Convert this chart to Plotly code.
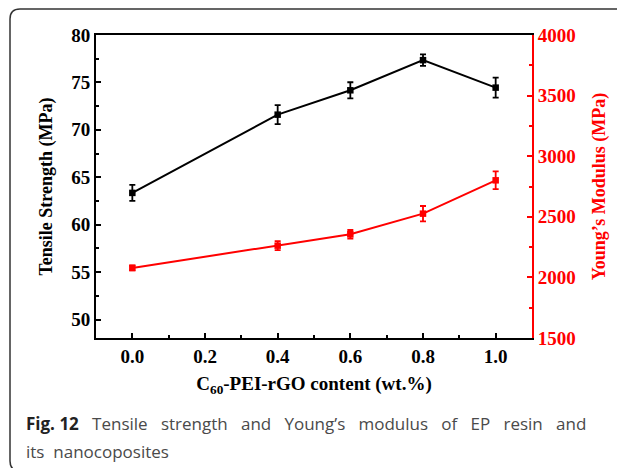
import plotly.graph_objects as go

content = [0.0, 0.4, 0.6, 0.8, 1.0]
tensile = [63.35, 71.6, 74.17, 77.35, 74.45]
tensile_err = [0.85, 1.0, 0.85, 0.6, 1.05]
modulus = [2078, 2262, 2356, 2526, 2801]
modulus_err = [20, 37, 35, 63, 73]

# page body has an 8px margin, so the figure is drawn 8px smaller and shifted
OFF = 8
W, H = 625 - OFF, 468 - OFF
L, T = 96 - OFF, 35 - OFF
R, B = 625 - 532, 468 - 338
pw, ph = W - L - R, H - T - B

def px(x):  # reference pixel -> paper
    return (x - OFF - L) / pw

def py(y):
    return (H - B - (y - OFF)) / ph

serif = "Liberation Serif"

fig = go.Figure()
fig.add_trace(go.Scatter(
    x=content, y=tensile, mode="lines+markers",
    line=dict(color="black", width=2),
    marker=dict(symbol="square", size=6.5, color="black"),
    error_y=dict(type="data", array=tensile_err, color="black", thickness=1.8, width=3),
    yaxis="y", showlegend=False))
fig.add_trace(go.Scatter(
    x=content, y=modulus, mode="lines+markers",
    line=dict(color="#ff0000", width=2),
    marker=dict(symbol="square", size=6.5, color="#ff0000"),
    error_y=dict(type="data", array=modulus_err, color="#ff0000", thickness=1.8, width=3),
    yaxis="y2", showlegend=False))

tick_font = dict(family=serif, size=19, color="black", weight="bold")

fig.update_layout(
    width=W, height=H,
    margin=dict(l=L, r=R, t=T, b=B, autoexpand=False),
    paper_bgcolor="white", plot_bgcolor="white",
    xaxis=dict(range=[-0.1, 1.1], tickvals=[0.0, 0.2, 0.4, 0.6, 0.8, 1.0],
               ticktext=["0.0", "0.2", "0.4", "0.6", "0.8", "1.0"],
               ticks="inside", ticklen=5, tickwidth=1.5, tickcolor="black",
               minor=dict(dtick=0.1, tick0=0, ticks="inside", ticklen=3, tickwidth=1.5, tickcolor="black"),
               showline=True, linecolor="black", linewidth=2, mirror=True,
               showgrid=False, zeroline=False, tickfont=tick_font,
               title=dict(text="C<sub>60</sub>-PEI-rGO content (wt.%)",
                          font=dict(family=serif, size=19, color="black", weight="bold"), standoff=11)),
    yaxis=dict(range=[48.05, 80], tickvals=[50, 55, 60, 65, 70, 75, 80],
               ticks="inside", ticklen=5, tickwidth=1.5, tickcolor="black",
               minor=dict(dtick=2.5, tick0=50, ticks="inside", ticklen=3, tickwidth=1.5, tickcolor="black"),
               showline=True, linecolor="black", linewidth=2, mirror=False,
               showgrid=False, zeroline=False, tickfont=tick_font,
               title=dict(text="Tensile Strength (MPa)",
                          font=dict(family=serif, size=18, color="black", weight="bold"), standoff=14)),
    yaxis2=dict(range=[1500, 4000], tickvals=[1500, 2000, 2500, 3000, 3500, 4000],
                overlaying="y", side="right",
                ticks="inside", ticklen=5, tickwidth=1.5, tickcolor="#ff0000",
                minor=dict(dtick=250, tick0=1500, ticks="inside", ticklen=3, tickwidth=1.5, tickcolor="#ff0000"),
                showline=True, linecolor="#ff0000", linewidth=2,
                showgrid=False, zeroline=False,
                tickfont=dict(family=serif, size=19, color="#ff0000", weight="bold"),
                title=dict(text="Young’s Modulus (MPa)",
                           font=dict(family=serif, size=18, color="#ff0000", weight="bold"), standoff=18)),
)

# rounded border around figure + caption
x0, x1 = px(10), px(660)
ytop, ybot = py(9), py(471)
rx, ry = 10 / pw, 10 / ph
path = (f"M {x0},{ybot + ry} L {x0},{ytop - ry} Q {x0},{ytop} {x0 + rx},{ytop} L {x1},{ytop} "
        f"M {x0},{ybot + ry} Q {x0},{ybot} {x0 + rx},{ybot} L {x1},{ybot}")
fig.add_shape(type="path", xref="paper", yref="paper", path=path,
              line=dict(color="#333333", width=1.5))

cap_font = dict(family="Open Sans", size=17, color="#4a4a4a")
gap = " &nbsp;&nbsp;"
words = ["Tensile", "strength", "and", "Young’s", "modulus", "of", "EP", "resin", "and"]
line1 = "<b style='color:#222'>Fig. 12</b>" + gap + gap.join(words)
fig.add_annotation(xref="paper", yref="paper", x=px(24), y=py(423), xanchor="left", yanchor="middle",
                   showarrow=False, align="left", font=cap_font, text=line1)
fig.add_annotation(xref="paper", yref="paper", x=px(24), y=py(451), xanchor="left", yanchor="middle",
                   showarrow=False, align="left", font=cap_font,
                   text="its &nbsp;nanocoposites")

fig.write_html("out.html")
